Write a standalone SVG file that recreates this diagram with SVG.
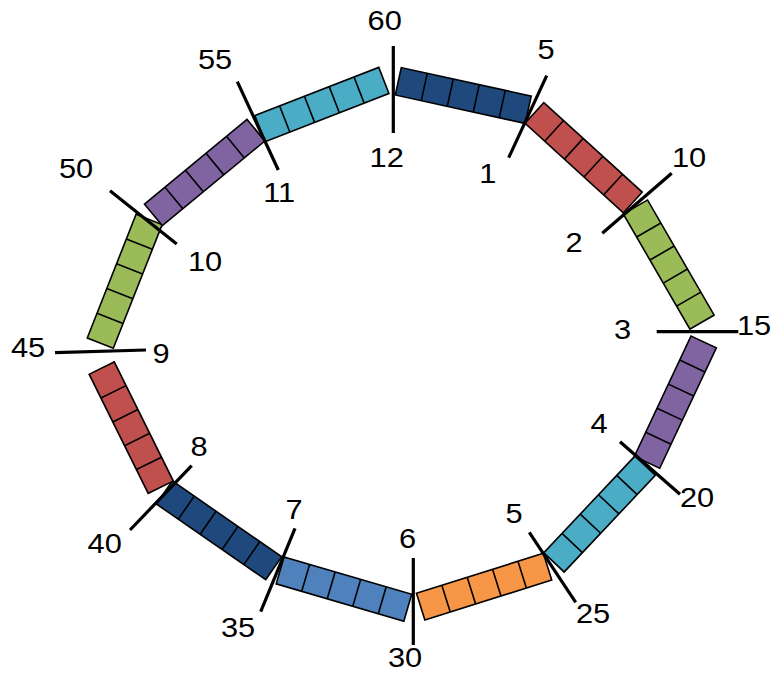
<svg xmlns="http://www.w3.org/2000/svg" width="777" height="673" viewBox="0 0 777 673">
<style>
  .seg rect { stroke: #000; stroke-width: 1.6; stroke-linejoin: miter; }
  .div { fill: none; stroke: #000; stroke-width: 1.6; }
  .navy { fill: #1F497D; }
  .red { fill: #C0504D; }
  .green { fill: #9BBB59; }
  .purple { fill: #8064A2; }
  .cyan { fill: #4BACC6; }
  .orange { fill: #F79646; }
  .blue { fill: #4F81BD; }
  .tick { stroke: #000; stroke-width: 3.2; fill: none; }
  .lbl { font-family: "Liberation Sans", Arial, sans-serif; font-size: 28px; fill: #000; text-anchor: middle; }
</style>
<defs>
  <path id="dividers" class="div" d="M26.6,0V-28M53.2,0V-28M79.8,0V-28M106.4,0V-28"/>
</defs>
<rect width="777" height="673" fill="#fff"/>
<g id="segments">
  <g id="seg-12-1" class="seg" transform="translate(395.3,95) rotate(12.34)"><rect x="0" y="-28" width="133" height="28" class="navy"/><use href="#dividers"/></g>
  <g id="seg-1-2" class="seg" transform="translate(525,123.3) rotate(42.3)"><rect x="0" y="-28" width="133" height="28" class="red"/><use href="#dividers"/></g>
  <g id="seg-2-3" class="seg" transform="translate(623.3,214) rotate(59.95)"><rect x="0" y="-28" width="133" height="28" class="green"/><use href="#dividers"/></g>
  <g id="seg-3-4" class="seg" transform="translate(691,336) rotate(115.2)"><rect x="0" y="-28" width="133" height="28" class="purple"/><use href="#dividers"/></g>
  <g id="seg-4-5" class="seg" transform="translate(635,456) rotate(133.3)"><rect x="0" y="-28" width="133" height="28" class="cyan"/><use href="#dividers"/></g>
  <g id="seg-5-6" class="seg" transform="translate(543.3,553.3) rotate(162.5)"><rect x="0" y="-28" width="133" height="28" class="orange"/><use href="#dividers"/></g>
  <g id="seg-6-7" class="seg" transform="translate(411.7,594.3) rotate(196.3)"><rect x="0" y="-28" width="133" height="28" class="blue"/><use href="#dividers"/></g>
  <g id="seg-7-8" class="seg" transform="translate(281.7,556.7) rotate(214.7)"><rect x="0" y="-28" width="133" height="28" class="navy"/><use href="#dividers"/></g>
  <g id="seg-8-9" class="seg" transform="translate(173.3,481) rotate(243.65)"><rect x="0" y="-28" width="133" height="28" class="red"/><use href="#dividers"/></g>
  <g id="seg-9-10" class="seg" transform="translate(113.3,348.3) rotate(-68.46)"><rect x="0" y="-28" width="133" height="28" class="green"/><use href="#dividers"/></g>
  <g id="seg-10-11" class="seg" transform="translate(162.3,225.7) rotate(-39.56)"><rect x="0" y="-28" width="133" height="28" class="purple"/><use href="#dividers"/></g>
  <g id="seg-11-12" class="seg" transform="translate(265,141.7) rotate(-21.27)"><rect x="0" y="-28" width="133" height="28" class="cyan"/><use href="#dividers"/></g>
</g>
<g id="connectors">
  <line class="tick" x1="393.3" y1="46" x2="393.3" y2="133"/>
  <line class="tick" x1="546.7" y1="75.7" x2="508.7" y2="157.7"/>
  <line class="tick" x1="671.7" y1="173.3" x2="602.3" y2="233.3"/>
  <line class="tick" x1="656.7" y1="331.7" x2="738.3" y2="331.7"/>
  <line class="tick" x1="620" y1="441.7" x2="680" y2="494.3"/>
  <line class="tick" x1="529.3" y1="532.3" x2="575.7" y2="602.3"/>
  <line class="tick" x1="413.3" y1="558" x2="413.3" y2="645"/>
  <line class="tick" x1="295" y1="528.3" x2="260.7" y2="611.7"/>
  <line class="tick" x1="191.7" y1="465.7" x2="130" y2="530"/>
  <line class="tick" x1="55" y1="352.7" x2="146" y2="350"/>
  <line class="tick" x1="110" y1="190.7" x2="176.7" y2="244"/>
  <line class="tick" x1="237.3" y1="81.7" x2="278.3" y2="170"/>
</g>
<g id="labels">
  <text class="lbl" transform="translate(384.7,30) scale(1.1,1)">60</text>
  <text class="lbl" transform="translate(386.7,166.5) scale(1.1,1)">12</text>
  <text class="lbl" transform="translate(546,59) scale(1.1,1)">5</text>
  <text class="lbl" transform="translate(487.8,183.3) scale(1.1,1)">1</text>
  <text class="lbl" transform="translate(689,166.7) scale(1.1,1)">10</text>
  <text class="lbl" transform="translate(574,251.7) scale(1.1,1)">2</text>
  <text class="lbl" transform="translate(622.5,339.3) scale(1.1,1)">3</text>
  <text class="lbl" transform="translate(754,335) scale(1.1,1)">15</text>
  <text class="lbl" transform="translate(599,432.7) scale(1.1,1)">4</text>
  <text class="lbl" transform="translate(697,506.7) scale(1.1,1)">20</text>
  <text class="lbl" transform="translate(514,522.7) scale(1.1,1)">5</text>
  <text class="lbl" transform="translate(593,623.3) scale(1.1,1)">25</text>
  <text class="lbl" transform="translate(407.5,548.3) scale(1.1,1)">6</text>
  <text class="lbl" transform="translate(405,666.7) scale(1.1,1)">30</text>
  <text class="lbl" transform="translate(294,519.3) scale(1.1,1)">7</text>
  <text class="lbl" transform="translate(238,636.7) scale(1.1,1)">35</text>
  <text class="lbl" transform="translate(199,456) scale(1.1,1)">8</text>
  <text class="lbl" transform="translate(104.7,552.7) scale(1.1,1)">40</text>
  <text class="lbl" transform="translate(28,357.3) scale(1.1,1)">45</text>
  <text class="lbl" transform="translate(161,362.7) scale(1.1,1)">9</text>
  <text class="lbl" transform="translate(76,178.3) scale(1.1,1)">50</text>
  <text class="lbl" transform="translate(205,270.7) scale(1.1,1)">10</text>
  <text class="lbl" transform="translate(215,69) scale(1.1,1)">55</text>
  <text class="lbl" transform="translate(279.1,202) scale(1.1,1)">11</text>
</g>
</svg>
